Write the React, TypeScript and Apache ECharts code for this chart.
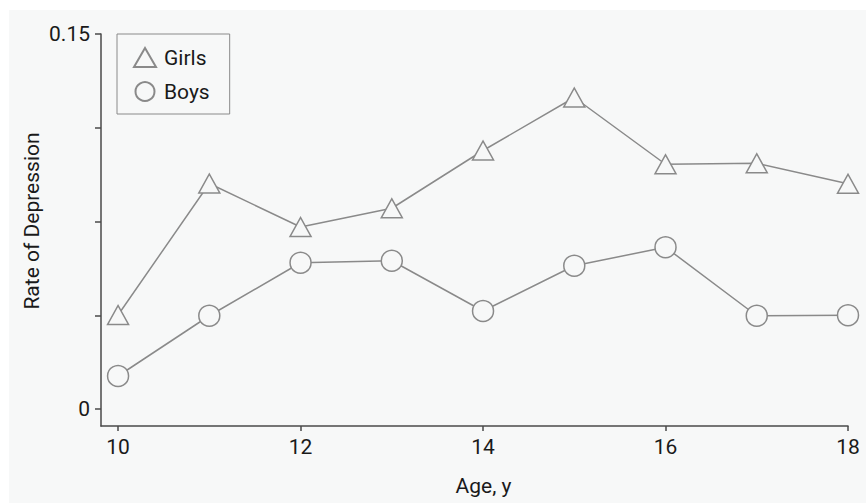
import React, { useEffect, useRef } from "react";
import * as echarts from "echarts";

const ages = [10, 11, 12, 13, 14, 15, 16, 17, 18];
const girls = [0.0376, 0.0902, 0.0728, 0.0803, 0.1034, 0.1246, 0.0979, 0.0983, 0.0901];
const boys = [0.0132, 0.0373, 0.0585, 0.0593, 0.0392, 0.0573, 0.0647, 0.0373, 0.0375];
const xTicks = [10, 12, 14, 16, 18];
const yTicks = [0, 0.0375, 0.075, 0.1125, 0.15];
const yLabels = [0, 0.15];

const BG = "#f7f8f8";
const LINE = "#8a8a8a";
const AXIS = "#4a4a4a";
const TEXT = "#1a1a1a";
const FONT = "Roboto, 'Liberation Sans', Arial, sans-serif";
const FS = 21;

export default function App() {
  const ref = useRef<HTMLDivElement>(null);
  useEffect(() => {
    if (!ref.current) return;
    const chart = echarts.init(ref.current, undefined, { renderer: "svg" });
    const seriesStyle = (name: string, vals: number[], symbol: string, size: any) => ({
      name,
      type: "line",
      data: ages.map((a, i) => [a, vals[i]]),
      symbol,
      symbolSize: size,
      showAllSymbol: true,
      lineStyle: { color: LINE, width: 1.5 },
      itemStyle: { color: BG, borderColor: LINE, borderWidth: 1.5 },
      emphasis: { disabled: true },
      z: 3,
    });
    chart.setOption({
      animation: false,
      backgroundColor: "#ffffff",
      textStyle: { fontFamily: FONT },
      graphic: [
        {
          type: "rect",
          z: -10,
          silent: true,
          shape: { x: 9, y: 10, width: 857, height: 493 },
          style: { fill: BG },
        },
        {
          type: "text",
          x: 31.5,
          y: 221,
          rotation: Math.PI / 2,
          style: {
            text: "Rate of Depression",
            fill: TEXT,
            font: `${FS}px ${FONT}`,
            align: "center",
            verticalAlign: "middle",
          },
        },
        {
          type: "text",
          x: 483.5,
          y: 486,
          style: {
            text: "Age, y",
            fill: TEXT,
            font: `${FS}px ${FONT}`,
            align: "center",
            verticalAlign: "middle",
          },
        },
      ],
      legend: {
        orient: "vertical",
        left: 117,
        top: 34,
        padding: [13, 20, 12, 16],
        itemGap: 13,
        itemWidth: 22,
        itemHeight: 19,
        borderColor: LINE,
        borderWidth: 1,
        borderRadius: 0,
        backgroundColor: BG,
        textStyle: { fontSize: FS, color: TEXT, fontFamily: FONT, padding: [0, 0, 0, 3] },
        data: [
          { name: "Girls", icon: "triangle" },
          { name: "Boys", icon: "circle" },
        ],
        selectedMode: false,
      },
      grid: { left: 101, right: 18, top: 34, bottom: 77, containLabel: false },
      xAxis: {
        type: "value",
        min: 9.813,
        max: 18,
        axisLine: { onZero: false, lineStyle: { color: AXIS, width: 1.5 } },
        axisTick: { customValues: xTicks, length: 5, lineStyle: { color: AXIS, width: 1.5 } },
        axisLabel: {
          customValues: xTicks,
          fontSize: FS,
          color: TEXT,
          fontFamily: FONT,
          margin: 10,
        },
        splitLine: { show: false },
      },
      yAxis: {
        type: "value",
        min: -0.0068,
        max: 0.15,
        axisLine: { show: true, onZero: false, lineStyle: { color: AXIS, width: 1.5 } },
        axisTick: { show: true, customValues: yTicks, length: 6, lineStyle: { color: AXIS, width: 1.5 } },
        axisLabel: {
          customValues: yLabels,
          fontSize: FS,
          color: TEXT,
          fontFamily: FONT,
          margin: 11,
          formatter: (v: number) => (Math.abs(v) < 1e-9 ? "0" : String(Math.round(v * 100) / 100)),
        },
        splitLine: { show: false },
      },
      series: [
        seriesStyle("Girls", girls, "triangle", [21, 19]),
        seriesStyle("Boys", boys, "circle", 21),
      ],
    });
    return () => chart.dispose();
  }, []);
  return (
    <div
      ref={ref}
      style={{ position: "fixed", left: 0, top: 0, width: 866, height: 503 }}
    />
  );
}
